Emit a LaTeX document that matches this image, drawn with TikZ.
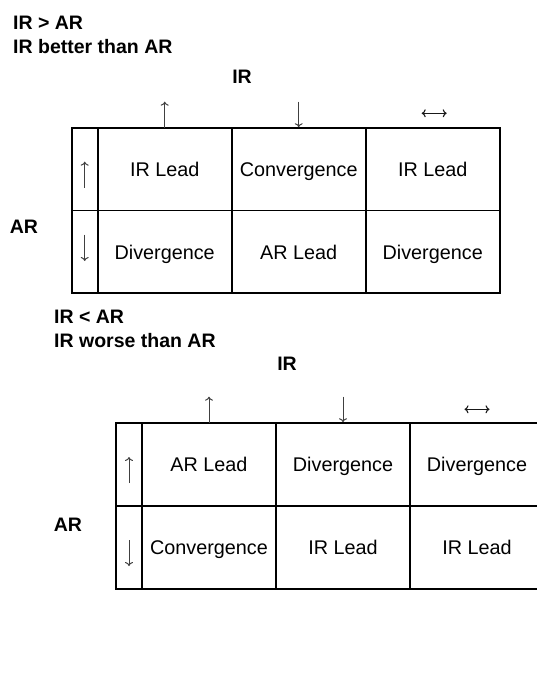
\documentclass[tikz,border=0pt]{standalone}
\usepackage{fontspec}
\setmainfont{Liberation Sans}
\usetikzlibrary{arrows.meta}
\begin{document}
\begin{tikzpicture}[x=1pt,y=-1pt,
  grid/.style={line width=1.7pt, line cap=rect},
  cell/.style={anchor=base, font=\fontsize{19.8}{23}\selectfont, inner sep=0pt},
  lbl/.style={anchor=base west, font=\fontsize{19.5}{23}\selectfont\bfseries, inner sep=0pt},
  lblc/.style={anchor=base, font=\fontsize{19.5}{23}\selectfont\bfseries, inner sep=0pt},
  sym/.style={line width=1pt, draw=black!75, -{To[length=4pt,width=8pt]}},
  dsym/.style={line width=1.1pt, draw=black!90, {To[length=4pt,width=8pt]}-{To[length=4pt,width=8pt]}}
]
\useasboundingbox (0,0) rectangle (537,690);

% ---------- upper part ----------
\node[lbl] (h1a) at (13,30) {IR > AR};
\node[lbl] (h1b) at (13,54) {IR better than AR};
\node[lblc] (t1ir) at (242,84) {IR};
\node[lblc] (t1ar) at (24,233) {AR};

\draw[grid] (71.7,127.7) rectangle (499.7,293.3);
\draw[grid] (71.7,210.5) -- (499.7,210.5);
\draw[grid] (97.7,127.7) -- (97.7,293.3);
\draw[grid] (231.7,127.7) -- (231.7,293.3);
\draw[grid] (365.7,127.7) -- (365.7,293.3);

\node[cell] (c11) at (164.7,176.7) {IR Lead};
\node[cell] (c12) at (298.7,176.7) {Convergence};
\node[cell] (c13) at (432.7,176.7) {IR Lead};
\node[cell] (c21) at (164.7,259.3) {Divergence};
\node[cell] (c22) at (298.7,259.3) {AR Lead};
\node[cell] (c23) at (432.7,259.3) {Divergence};

\coordinate (u1s) at (164.7,127.7); \coordinate (u1e) at (164.7,101.7);
\coordinate (d1s) at (298.7,101.7); \coordinate (d1e) at (298.7,127.2);
\coordinate (b1s) at (421.7,113.3); \coordinate (b1e) at (446.7,113.3);
\coordinate (vu1s) at (84.7,187.7); \coordinate (vu1e) at (84.7,161.7);
\coordinate (vd1s) at (84.7,234.5); \coordinate (vd1e) at (84.7,261);
\draw[sym] (u1s) -- (u1e);
\draw[sym] (d1s) -- (d1e);
\draw[dsym] (b1s) -- (b1e);
\draw[sym] (vu1s) -- (vu1e);
\draw[sym] (vd1s) -- (vd1e);

% ---------- lower part ----------
\node[lbl] (h2a) at (54,323) {IR < AR};
\node[lbl] (h2b) at (54,347) {IR worse than AR};
\node[lblc] (t2ir) at (287,370) {IR};
\node[lblc] (t2ar) at (68,531) {AR};

\begin{scope}
\clip (0,0) rectangle (537,690);
\draw[grid] (115.7,422.7) rectangle (544,589);
\draw[grid] (115.7,505.8) -- (544,505.8);
\draw[grid] (142,422.7) -- (142,589);
\draw[grid] (276,422.7) -- (276,589);
\draw[grid] (410,422.7) -- (410,589);
\end{scope}

\node[cell] (e11) at (209,471.3) {AR Lead};
\node[cell] (e12) at (343,471.3) {Divergence};
\node[cell] (e13) at (477,471.3) {Divergence};
\node[cell] (e21) at (209,554.5) {Convergence};
\node[cell] (e22) at (343,554.5) {IR Lead};
\node[cell] (e23) at (477,554.5) {IR Lead};

\coordinate (u2s) at (209,422.7); \coordinate (u2e) at (209,396.7);
\coordinate (d2s) at (343,396.7); \coordinate (d2e) at (343,422.2);
\coordinate (b2s) at (464.5,409.3); \coordinate (b2e) at (489.5,409.3);
\coordinate (vu2s) at (129,483); \coordinate (vu2e) at (129,457);
\coordinate (vd2s) at (129,540); \coordinate (vd2e) at (129,566);
\draw[sym] (u2s) -- (u2e);
\draw[sym] (d2s) -- (d2e);
\draw[dsym] (b2s) -- (b2e);
\draw[sym] (vu2s) -- (vu2e);
\draw[sym] (vd2s) -- (vd2e);
\end{tikzpicture}
\end{document}
